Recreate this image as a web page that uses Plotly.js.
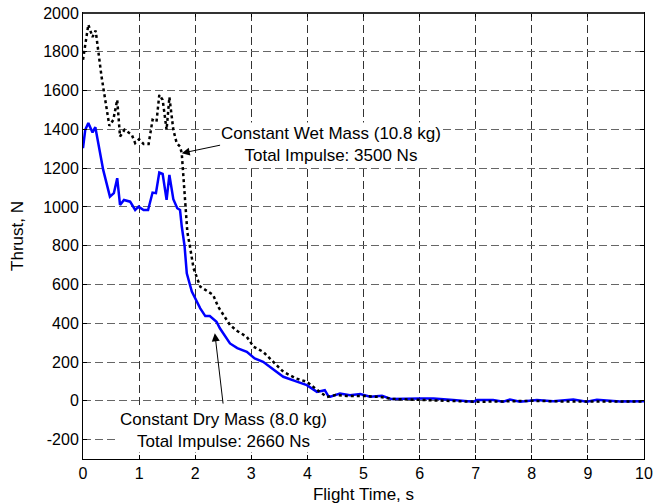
<!DOCTYPE html>
<html>
<head>
<meta charset="utf-8">
<script src="https://cdn.plot.ly/plotly-3.0.1.min.js"></script>
<style>html,body{margin:0;padding:0;background:#fff;}#chart{width:657px;height:504px;}</style>
</head>
<body>
<div id="chart"></div>
<script>
// Constant Dry Mass (8.0 kg) — blue solid
var dryTime = [0,0.04,0.095,0.17,0.22,0.36,0.48,0.55,0.61,0.66,0.73,0.84,0.93,0.99,1.08,1.16,1.24,1.30,1.36,1.42,1.49,1.54,1.61,1.68,1.73,1.76,1.81,1.85,1.94,2.09,2.18,2.26,2.38,2.44,2.62,2.75,2.92,3.06,3.21,3.4,3.57,3.8,3.99,4.17,4.31,4.37,4.41,4.58,4.76,4.94,5.12,5.33,5.5,6.0,6.25,6.6,6.96,7.02,7.31,7.49,7.61,7.79,8.09,8.38,8.74,8.98,9.16,9.57,10];
var dryThrust = [1303,1398,1432,1384,1411,1191,1053,1071,1148,1010,1036,1027,984,1001,984,984,1074,1071,1177,1170,1036,1165,1040,993,984,900,800,658,563,477,437,437,408,374,296,272,253,219,201,160,124,100,81,46,55,26,21,38,29,35,21,26,9,12,12,4,-5,4,4,-5,7,-5,4,-2,7,-5,5,-3,-2];

// Constant Wet Mass (10.8 kg) — black dotted
var wetTime = [0,0.095,0.17,0.226,0.33,0.47,0.54,0.61,0.66,0.74,0.87,0.93,1.0,1.08,1.17,1.24,1.31,1.36,1.42,1.49,1.54,1.61,1.67,1.73,1.76,1.78,1.82,1.86,1.91,1.97,2.05,2.09,2.32,2.41,2.62,2.75,2.92,3.04,3.21,3.4,3.57,3.8,3.99,4.22,4.35,4.5,4.7,5.0,5.3,5.5,6.0,6.5,7.0,7.5,8.0,8.5,9.0,9.5,10];
var wetThrust = [1759,1940,1876,1909,1673,1418,1449,1552,1363,1398,1372,1329,1349,1325,1325,1449,1440,1578,1552,1398,1566,1398,1329,1311,1277,1200,1000,870,790,684,620,589,546,485,391,360,330,279,253,200,150,115,98,46,20,30,25,25,20,10,5,0,-5,-3,0,-3,-2,-3,-3];

var xTicks = [0,1,2,3,4,5,6,7,8,9,10];
var yTicks = [-200,0,200,400,600,800,1000,1200,1400,1600,1800,2000];

var labelWet = ['Constant Wet Mass (10.8 kg)', 'Total Impulse: 3500 Ns'];
var labelDry = ['Constant Dry Mass (8.0 kg)', 'Total Impulse: 2660 Ns'];

var FONT = 'Liberation Sans, Arial, sans-serif';

var traces = [
  {x: dryTime, y: dryThrust, type: 'scatter', mode: 'lines',
   line: {color: '#0000ff', width: 2.5}, hoverinfo: 'skip'},
  {x: wetTime, y: wetThrust, type: 'scatter', mode: 'lines',
   line: {color: '#000000', width: 2.5, dash: 'dot'}, hoverinfo: 'skip'}
];

var axisCommon = {
  showline: true, mirror: 'ticks', linecolor: '#000', linewidth: 1,
  ticks: 'inside', ticklen: 4, tickcolor: '#000',
  showgrid: true, gridwidth: 1, griddash: '8px,4px',
  zeroline: false, tickfont: {family: FONT, size: 16, color: '#000'}
};

var layout = {
  width: 657, height: 504,
  margin: {l: 83, r: 13, t: 13, b: 45},
  paper_bgcolor: '#fff', plot_bgcolor: '#fff',
  showlegend: false,
  font: {family: FONT, size: 16, color: '#000'},
  xaxis: Object.assign({}, axisCommon, {
    range: [0, 10], tickmode: 'array', tickvals: xTicks, ticktext: xTicks.map(String),
    gridcolor: '#333',
    title: {text: 'Flight Time, s', font: {family: FONT, size: 17, color: '#000'}, standoff: 6}
  }),
  yaxis: Object.assign({}, axisCommon, {
    range: [-300, 2000], tickmode: 'array', tickvals: yTicks, ticktext: yTicks.map(String),
    gridcolor: '#666',
    title: {text: 'Thrust, N', font: {family: FONT, size: 17, color: '#000'}, standoff: 15}
  }),
  shapes: [
    {type: 'line', xref: 'paper', yref: 'paper', x0: 0, x1: 1, y0: 1, y1: 1,
     line: {color: '#333', width: 2}}
  ],
  annotations: [
    {x: 4.42, y: 1324, xref: 'x', yref: 'y', text: labelWet.join('<br>'), showarrow: false,
     align: 'center', bgcolor: '#fff', font: {family: FONT, size: 17, color: '#000'}},
    {x: 1.76, y: 1277, xref: 'x', yref: 'y', ax: 2.47, ay: 1320, axref: 'x', ayref: 'y',
     text: '', showarrow: true, arrowhead: 2, arrowsize: 1.6, arrowwidth: 1, arrowcolor: '#000'},
    {x: 2.51, y: -155, xref: 'x', yref: 'y', text: labelDry.join('<br>'), showarrow: false,
     align: 'center', bgcolor: '#fff', font: {family: FONT, size: 17, color: '#000'}},
    {x: 2.35, y: 348, xref: 'x', yref: 'y', ax: 2.50, ay: -22, axref: 'x', ayref: 'y',
     text: '', showarrow: true, arrowhead: 2, arrowsize: 1.6, arrowwidth: 1, arrowcolor: '#000'}
  ]
};

Plotly.newPlot('chart', traces, layout, {staticPlot: true, displayModeBar: false});
</script>
</body>
</html>
